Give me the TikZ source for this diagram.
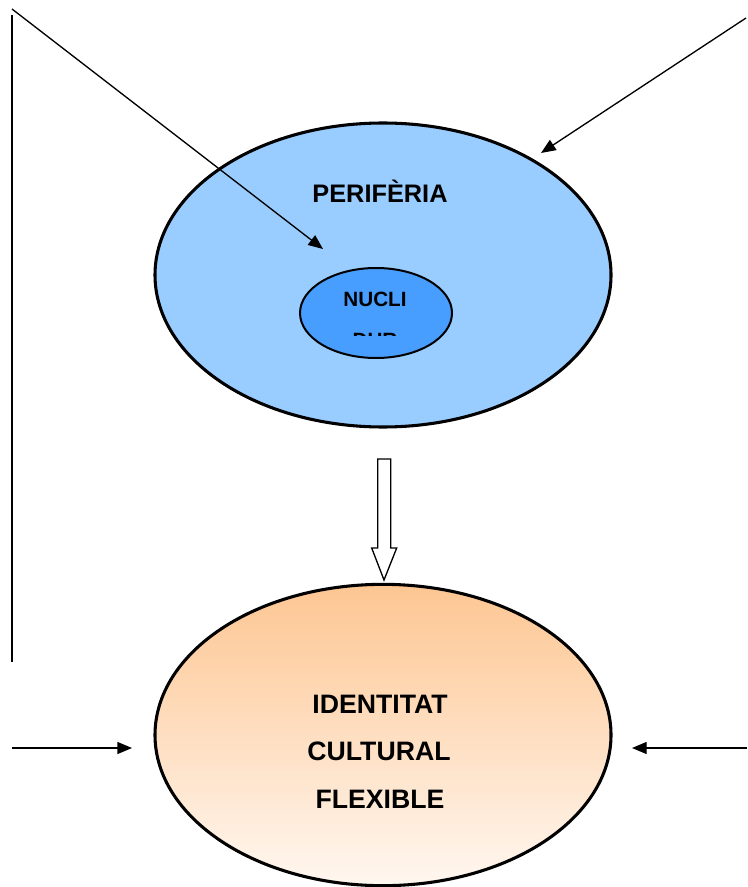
\documentclass[tikz,border=0pt]{standalone}
\usepackage{fontspec}
\setmainfont{Liberation Sans}
\usetikzlibrary{arrows.meta,shapes.geometric}
\definecolor{peribg}{HTML}{99CCFF}
\definecolor{nuclibg}{HTML}{479EFF}
\definecolor{identtop}{HTML}{FDC692}
\definecolor{identbot}{HTML}{FFF7F0}
\tikzset{blob/.style={ellipse,draw=black,line width=2.3pt,inner sep=0pt},
  lbl/.style={anchor=base,inner sep=0pt,font=\bfseries\fontsize{20}{20}\selectfont},
  pointer/.style={-{Triangle[length=11pt,width=9pt]},line width=1pt}}

\begin{document}
\begin{tikzpicture}[x=0.75pt,y=-0.75pt]
\useasboundingbox (0,0) rectangle (747,887);
% ellipses
\node (peri) [blob,fill=peribg,minimum width=342pt,minimum height=228pt] at (383,275) {};
\node (nucli) [blob,line width=1.5pt,fill=nuclibg,minimum width=114pt,minimum height=67.5pt] at (376,313) {};
\node (ident) [blob,top color=identtop,bottom color=identbot,minimum width=342pt,minimum height=226pt] at (383,735) {};
%
\node (peritxt) [lbl,font=\bfseries\fontsize{19}{19}\selectfont] at (380,203) {PERIFÈRIA};
\node (nuclitxt) [lbl,font=\bfseries\fontsize{15.5}{15.5}\selectfont] at (375,307) {NUCLI};
\begin{scope}
\clip (300,300) rectangle (452,336);
\node (durtxt) [lbl,font=\bfseries\fontsize{15.5}{15.5}\selectfont] at (375,347) {DUR};
\end{scope}
\node (id1) [lbl] at (380,713) {IDENTITAT};
\node (id2) [lbl] at (379,760) {CULTURAL};
\node (id3) [lbl] at (380,808) {FLEXIBLE};
% free ends
\coordinate (tl) at (12,9);
\coordinate (tlend) at (323,249);
\coordinate (tr) at (746,18);
\coordinate (trend) at (541,153);
\coordinate (vtop) at (12,15);
\coordinate (vbot) at (12,662);
\coordinate (bl) at (12,748);
\coordinate (blend) at (132,748);
\coordinate (br) at (747,748);
\coordinate (brend) at (632,748);
%
\draw[line width=1.2pt] (vtop) -- (vbot);
\draw[pointer] (tl) -- (tlend);
\draw[pointer] (tr) -- (trend);
\draw[pointer] (bl) -- (blend);
\draw[pointer] (br) -- (brend);
% hollow arrow
\draw[line width=1pt,fill=white,line join=miter]
  (377.7,459) -- (390.7,459) -- (390.7,548) -- (396.7,548) -- (384,580)
  -- (371.7,548) -- (377.7,548) -- cycle;
\end{tikzpicture}
\end{document}
